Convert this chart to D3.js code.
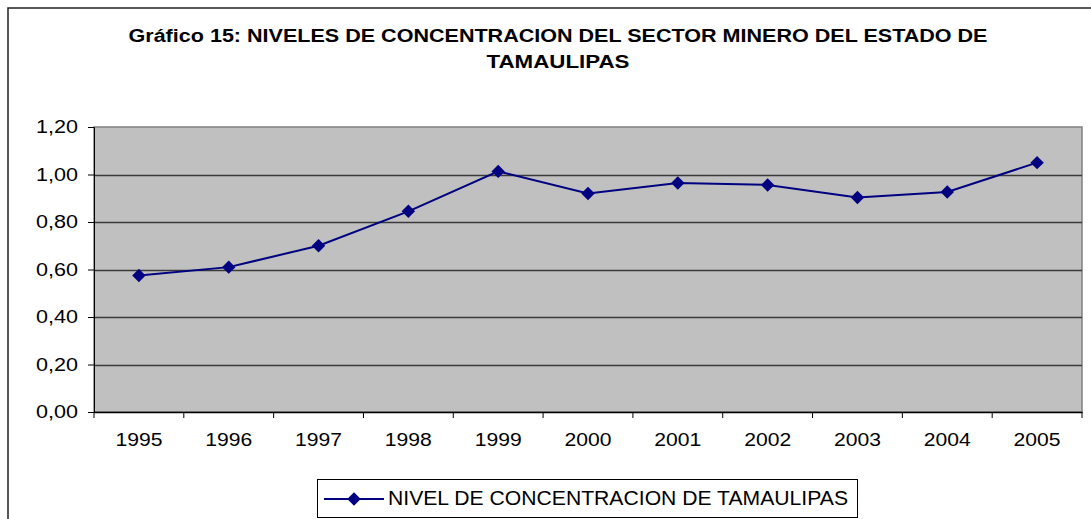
<!DOCTYPE html>
<html>
<head>
<meta charset="utf-8">
<script src="https://cdn.jsdelivr.net/npm/d3@7"></script>
<style>
  html, body { margin: 0; padding: 0; background: #fff; }
  svg { display: block; font-family: Arial, "Liberation Sans", sans-serif; }
</style>
</head>
<body>
<svg id="chart"></svg>
<script>
const YEARS = ["1995", "1996", "1997", "1998", "1999", "2000", "2001", "2002", "2003", "2004", "2005"];
const VALUES = [0.575, 0.61, 0.70, 0.845, 1.013, 0.92, 0.964, 0.956, 0.903, 0.926, 1.05];
const Y_TICKS = [0, 0.2, 0.4, 0.6, 0.8, 1.0, 1.2];
const TITLE_LINES = [
  "Gráfico 15: NIVELES DE CONCENTRACION DEL SECTOR MINERO DEL ESTADO DE",
  "TAMAULIPAS"
];
const SERIES_NAME = "NIVEL DE CONCENTRACION DE TAMAULIPAS";

const W = 1091, H = 519;
const plot = { left: 94, right: 1082, top: 127, bottom: 412 };
const LINE_COLOR = "#000080";
const FONT = "Arial, 'Liberation Sans', sans-serif";

const svg = d3.select("#chart").attr("width", W).attr("height", H);

// outer chart frame (runs off the right and bottom)
svg.append("rect")
  .attr("x", 8).attr("y", 8)
  .attr("width", W + 20).attr("height", H + 20)
  .attr("fill", "#fff").attr("stroke", "#222").attr("stroke-width", 1.5);

// title
svg.append("text")
  .attr("x", 558).attr("y", 42)
  .attr("text-anchor", "middle")
  .attr("font-size", 18).attr("font-weight", 700)
  .attr("textLength", 859).attr("lengthAdjust", "spacingAndGlyphs")
  .text(TITLE_LINES[0]);
svg.append("text")
  .attr("x", 558).attr("y", 68)
  .attr("text-anchor", "middle")
  .attr("font-size", 18).attr("font-weight", 700)
  .attr("textLength", 143).attr("lengthAdjust", "spacingAndGlyphs")
  .text(TITLE_LINES[1]);

const x = d3.scaleBand().domain(YEARS).range([plot.left, plot.right]);
const y = d3.scaleLinear().domain([0, 1.2]).range([plot.bottom, plot.top]);

// plot area
svg.append("rect")
  .attr("x", plot.left).attr("y", plot.top)
  .attr("width", plot.right - plot.left).attr("height", plot.bottom - plot.top)
  .attr("fill", "#c0c0c0").attr("stroke", "#808080").attr("stroke-width", 1.5);

// gridlines
svg.append("g")
  .selectAll("line")
  .data(Y_TICKS.slice(1, -1))
  .join("line")
  .attr("x1", plot.left).attr("x2", plot.right)
  .attr("y1", d => Math.round(y(d)) + 0.5).attr("y2", d => Math.round(y(d)) + 0.5)
  .attr("stroke", "#3a3a3a").attr("stroke-width", 1.4);

const fmt = d => d3.format(".2f")(d).replace(".", ",");

// y axis
svg.append("g")
  .attr("transform", `translate(${plot.left},0)`)
  .call(d3.axisLeft(y).tickValues(Y_TICKS).tickFormat(fmt).tickSize(6).tickPadding(10))
  .call(g => g.select(".domain").attr("stroke", "#000"))
  .call(g => g.selectAll(".tick line").attr("stroke", "#000"))
  .call(g => g.selectAll("text")
    .attr("font-size", 18.5).attr("font-family", FONT).attr("fill", "#000")
    .attr("textLength", 42).attr("lengthAdjust", "spacingAndGlyphs"));

// x axis
const xAxis = svg.append("g")
  .attr("transform", `translate(0,${plot.bottom})`)
  .call(d3.axisBottom(x).tickSize(0).tickPadding(21))
  .call(g => g.select(".domain").attr("stroke", "#000").attr("stroke-width", 1.5))
  .call(g => g.selectAll("text")
    .attr("font-size", 18.5).attr("font-family", FONT).attr("fill", "#000")
    .attr("textLength", 47).attr("lengthAdjust", "spacingAndGlyphs"));

// x tick marks sit on band edges
xAxis.append("g")
  .selectAll("line")
  .data(YEARS.concat("end"))
  .join("line")
  .attr("x1", (d, i) => plot.left + i * x.step())
  .attr("x2", (d, i) => plot.left + i * x.step())
  .attr("y1", 0).attr("y2", 6)
  .attr("stroke", "#000");

// series line
const cx = d => x(d) + x.bandwidth() / 2;
svg.append("path")
  .datum(VALUES)
  .attr("fill", "none")
  .attr("stroke", LINE_COLOR)
  .attr("stroke-width", 2)
  .attr("d", d3.line().x((d, i) => cx(YEARS[i])).y(d => y(d)));

svg.append("g")
  .selectAll("path")
  .data(VALUES)
  .join("path")
  .attr("transform", (d, i) => `translate(${cx(YEARS[i])},${y(d)}) rotate(45)`)
  .attr("d", d3.symbol().type(d3.symbolSquare).size(90))
  .attr("fill", LINE_COLOR);

// legend
const lg = svg.append("g");
lg.append("rect")
  .attr("x", 317.5).attr("y", 479.5)
  .attr("width", 540).attr("height", 38)
  .attr("fill", "#fff").attr("stroke", "#000").attr("stroke-width", 1);
lg.append("line")
  .attr("x1", 324).attr("x2", 384).attr("y1", 499).attr("y2", 499)
  .attr("stroke", LINE_COLOR).attr("stroke-width", 2);
lg.append("path")
  .attr("transform", "translate(354,499) rotate(45)")
  .attr("d", d3.symbol().type(d3.symbolSquare).size(90))
  .attr("fill", LINE_COLOR);
lg.append("text")
  .attr("x", 388).attr("y", 505)
  .attr("font-size", 20)
  .attr("textLength", 460).attr("lengthAdjust", "spacingAndGlyphs")
  .text(SERIES_NAME);
</script>
</body>
</html>
